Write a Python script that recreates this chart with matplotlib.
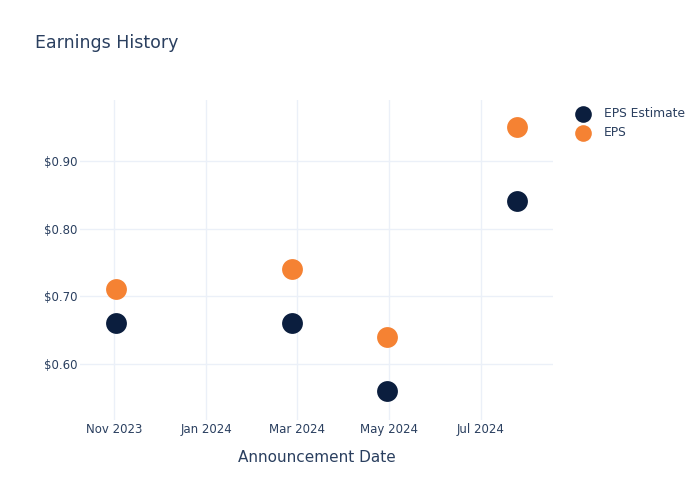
import pandas as pd
import matplotlib.pyplot as plt
import matplotlib.dates as mdates
from matplotlib.ticker import FuncFormatter

dates = pd.to_datetime(['2023-11-02', '2024-02-27', '2024-04-30', '2024-07-25'])
eps_estimate = [0.66, 0.66, 0.56, 0.84]
eps_actual = [0.71, 0.74, 0.64, 0.95]

text_color = '#2a3f5f'
grid_color = '#ebf0f8'

fig = plt.figure(figsize=(7, 5), dpi=100)
ax = fig.add_axes([0.114, 0.16, 0.676, 0.64])

ax.scatter(dates, eps_estimate, s=225, color='#0b1e3e', label='EPS Estimate', zorder=3, linewidths=0)
ax.scatter(dates, eps_actual, s=225, color='#f58233', label='EPS', zorder=3, linewidths=0)

ax.set_xlim(pd.Timestamp('2023-10-09'), pd.Timestamp('2024-08-18'))
ax.set_ylim(0.517, 0.99)

ax.xaxis.set_major_locator(mdates.MonthLocator(bymonth=[1, 3, 5, 7, 11]))
ax.xaxis.set_major_formatter(mdates.DateFormatter('%b %Y'))
ax.set_yticks([0.6, 0.7, 0.8, 0.9])
ax.yaxis.set_major_formatter(FuncFormatter(lambda v, p: f'${v:.2f}'))

ax.grid(True, color=grid_color, linewidth=1)
ax.set_axisbelow(True)
for s in ax.spines.values():
    s.set_visible(False)
ax.tick_params(length=0, labelsize=8.5, labelcolor=text_color)
ax.tick_params(axis='x', pad=2)
ax.tick_params(axis='y', pad=2)

ax.set_xlabel('Announcement Date', fontsize=11, color=text_color, labelpad=10)
fig.text(0.05, 0.903, 'Earnings History', fontsize=12.5, color=text_color)

ax.legend(loc='upper left', bbox_to_anchor=(1.028, 0.993), frameon=False, fontsize=8.8,
          labelcolor=text_color, markerscale=0.8, handletextpad=0.65, borderaxespad=0,
          labelspacing=0.5)

fig.savefig('out.png', dpi=100)
